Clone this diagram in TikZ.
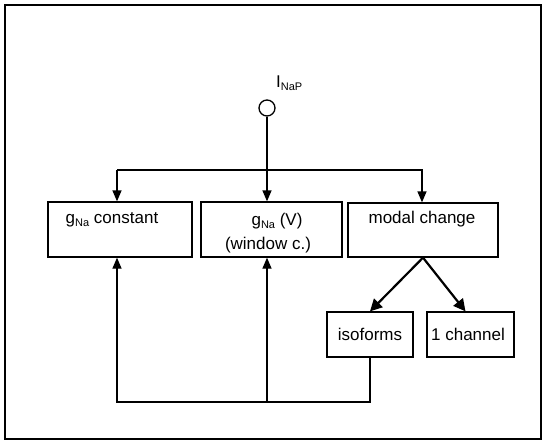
\documentclass[tikz,border=0pt]{standalone}
\usepackage{fontspec}
\setmainfont{Liberation Sans}
\usepackage{tikz}
\usetikzlibrary{arrows.meta, positioning, shapes, calc}

\newcommand{\lowsub}[1]{\raisebox{-0.4ex}{\fontsize{11}{11}\selectfont #1}}

\tikzset{
  box/.style={draw, line width=1.3pt, inner sep=0pt},
  lbl/.style={anchor=base, inner sep=0pt, font=\fontsize{17}{21}\selectfont},
  arr/.style={line width=1.3pt, -{Triangle[length=11pt,width=9pt]}},
  bigarr/.style={line width=2.2pt, -{Triangle[length=12pt,width=12pt]}}
}

\begin{document}
\begin{tikzpicture}[x=1pt, y=-1pt]
\useasboundingbox (0,0) rectangle (545,447);

% frame
\draw[line width=1.3pt] (5,5) rectangle (541,439);

% source
\node[draw, circle, line width=1.3pt, minimum size=16pt, inner sep=0pt] (src) at (267,108) {};
\node[lbl, anchor=base west] (inap) at (276,87) {I\lowsub{NaP}};

% boxes
\node[box, minimum width=144pt, minimum height=55pt] (gconst) at (120,229.5) {};
\node[box, minimum width=141pt, minimum height=55pt] (gvolt) at (271.5,229.5) {};
\node[box, minimum width=150pt, minimum height=54pt] (modal) at (423,230) {};
\node[box, minimum width=86pt, minimum height=45pt] (iso) at (370,334.5) {};
\node[box, minimum width=87pt, minimum height=45pt] (chan) at (470.5,334.5) {};

% box texts
\node[lbl] (tconst) at (112,223) {g\lowsub{Na} constant};
\node[lbl] (tvolt) at (277,225) {g\lowsub{Na} (V)};
\node[lbl] (twin) at (268,249) {(window c.)};
\node[lbl] (tmodal) at (422,223) {modal change};
\node[lbl] (tiso) at (370,340) {isoforms};
\node[lbl] (tchan) at (468,340) {1 channel};

% branch
\coordinate (bl) at (117,170);
\coordinate (br) at (422,170);
\coordinate (bot) at (0,402);

\draw[arr] (src.south) -- (src.south |- gvolt.north);
\draw[arr] (bl) -- (br) -- (br |- modal.north);
\draw[arr] (bl) -- (bl |- gconst.north);

% modal split
\draw[bigarr] (modal.south) -- (iso.north);
\draw[bigarr] (modal.south) -- ([xshift=-5pt]chan.north);

% feedback
\draw[arr] (iso.south) -- (iso.south |- bot) -- (bl |- bot) -- (bl |- gconst.south);
\draw[arr] (src.south |- bot) -- (src.south |- gvolt.south);
\end{tikzpicture}
\end{document}
